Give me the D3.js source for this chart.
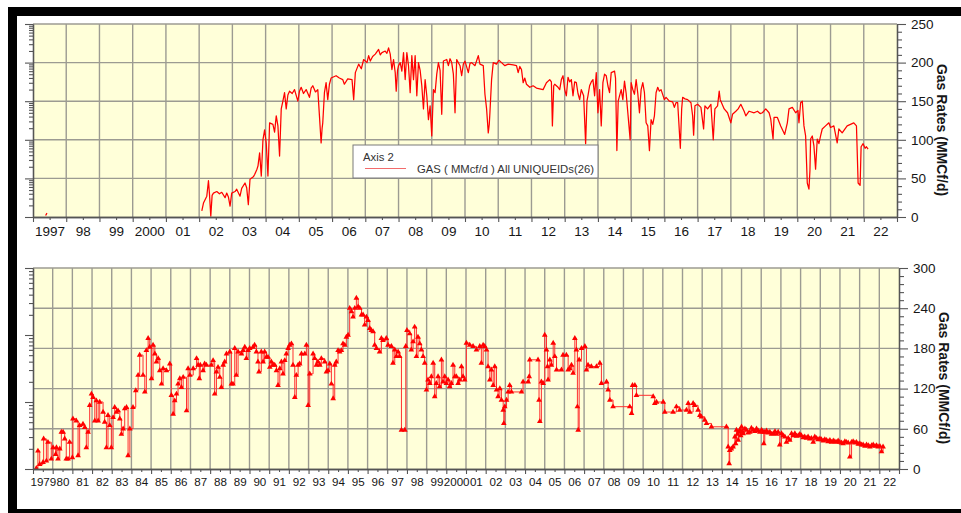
<!DOCTYPE html>
<html>
<head>
<meta charset="utf-8">
<script src="https://cdn.jsdelivr.net/npm/d3@7"></script>
<style>
  html, body { margin: 0; padding: 0; background: #fff; }
  svg { display: block; font-family: "Liberation Sans", Arial, sans-serif; }
</style>
</head>
<body>
<svg id="chart" width="961" height="513"></svg>
<script>
// ---- Upper panel: daily gas rate, 1997-2022 (decimal year, MMcf/d) ----
const topYearLabels = ["1997","98","99","2000","01","02","03","04","05","06","07","08","09","10","11","12","13","14","15","16","17","18","19","20","21","22"];
const topRateTicks = [0, 50, 100, 150, 200, 250];

const topGasEarly = [[1997.38, 2], [1997.42, 5]];

const topGas2002_2005 = [
  [2002.08, 8], [2002.13, 18], [2002.23, 27], [2002.28, 47], [2002.31, 30], [2002.35, 1], [2002.39, 28], [2002.43, 31],
  [2002.53, 33], [2002.61, 30], [2002.68, 32], [2002.78, 25], [2002.83, 31], [2002.88, 26], [2002.93, 14], [2002.98, 31],
  [2003.08, 33], [2003.13, 36], [2003.23, 27], [2003.28, 37], [2003.38, 44], [2003.43, 38], [2003.48, 16], [2003.53, 49],
  [2003.63, 52], [2003.67, 55], [2003.74, 62], [2003.77, 66], [2003.82, 83], [2003.87, 53], [2003.92, 100], [2003.97, 113],
  [2004.02, 95], [2004.07, 53], [2004.12, 122], [2004.22, 120], [2004.27, 110], [2004.32, 131], [2004.37, 118], [2004.42, 79],
  [2004.47, 140], [2004.52, 150], [2004.57, 161], [2004.62, 140], [2004.67, 158], [2004.72, 163], [2004.80, 160], [2004.87, 165], [2004.97, 150],
  [2005.02, 163], [2005.07, 168], [2005.14, 160], [2005.22, 165], [2005.32, 155], [2005.37, 167], [2005.42, 170], [2005.50, 162],
  [2005.57, 165], [2005.62, 131], [2005.65, 110], [2005.67, 96], [2005.70, 115], [2005.72, 122], [2005.77, 161], [2005.82, 174],
  [2005.87, 152], [2005.92, 172], [2005.97, 180]
];

const topGas2006_2010 = [
  [2006.12, 183], [2006.22, 180], [2006.32, 178], [2006.37, 172], [2006.47, 179], [2006.60, 178], [2006.65, 152], [2006.70, 187],
  [2006.80, 198], [2006.88, 192], [2006.95, 204],
  [2007.05, 200], [2007.10, 209], [2007.15, 202], [2007.22, 208], [2007.30, 211], [2007.40, 217], [2007.45, 210], [2007.50, 213],
  [2007.60, 215], [2007.65, 212], [2007.70, 219], [2007.75, 211], [2007.80, 191], [2007.85, 204], [2007.90, 187], [2007.93, 163], [2007.97, 190],
  [2008.00, 196], [2008.05, 200], [2008.10, 189], [2008.15, 213], [2008.20, 178], [2008.25, 213], [2008.30, 196], [2008.35, 161],
  [2008.40, 209], [2008.45, 178], [2008.50, 209], [2008.55, 157], [2008.60, 200], [2008.65, 190], [2008.70, 170], [2008.75, 140],
  [2008.80, 178], [2008.85, 157], [2008.90, 126], [2008.95, 144],
  [2009.00, 105], [2009.05, 165], [2009.10, 161], [2009.15, 185], [2009.20, 200], [2009.25, 190], [2009.30, 133], [2009.35, 202],
  [2009.45, 204], [2009.50, 196], [2009.55, 205], [2009.60, 200], [2009.65, 185], [2009.70, 135], [2009.75, 204], [2009.85, 196],
  [2009.90, 183], [2009.95, 198],
  [2010.00, 202], [2010.10, 187], [2010.15, 199], [2010.20, 200], [2010.30, 196], [2010.40, 209], [2010.45, 198], [2010.55, 196],
  [2010.60, 159], [2010.65, 140], [2010.70, 109], [2010.73, 120], [2010.75, 135], [2010.80, 178], [2010.85, 200], [2010.95, 198]
];

const topGas2011_2015 = [
  [2011.02, 203], [2011.10, 200], [2011.20, 196], [2011.30, 198], [2011.45, 197], [2011.55, 196], [2011.60, 187], [2011.65, 195],
  [2011.70, 191], [2011.75, 174], [2011.80, 180], [2011.85, 172], [2011.95, 168],
  [2012.05, 170], [2012.15, 167], [2012.25, 166], [2012.35, 165], [2012.45, 174], [2012.55, 178], [2012.60, 175], [2012.63, 118],
  [2012.67, 170], [2012.70, 172], [2012.80, 168], [2012.85, 165], [2012.90, 178], [2012.95, 183],
  [2013.00, 165], [2013.05, 157], [2013.10, 181], [2013.15, 175], [2013.20, 178], [2013.25, 157], [2013.30, 175], [2013.35, 174],
  [2013.40, 160], [2013.45, 152], [2013.50, 165], [2013.57, 157], [2013.63, 95], [2013.67, 150], [2013.70, 157], [2013.75, 170],
  [2013.80, 175], [2013.85, 178], [2013.90, 157], [2013.95, 187],
  [2014.00, 135], [2014.05, 165], [2014.10, 118], [2014.15, 174], [2014.20, 185], [2014.25, 183], [2014.30, 170], [2014.35, 161],
  [2014.40, 187], [2014.50, 189], [2014.53, 180], [2014.57, 86], [2014.61, 150], [2014.65, 157], [2014.70, 165], [2014.75, 152],
  [2014.80, 176], [2014.85, 160], [2014.90, 135], [2014.97, 100],
  [2015.00, 174], [2015.05, 165], [2015.10, 159], [2015.15, 178], [2015.20, 160], [2015.25, 135], [2015.30, 165], [2015.35, 174],
  [2015.40, 161], [2015.45, 122], [2015.50, 118], [2015.55, 86], [2015.60, 126], [2015.65, 120], [2015.70, 131], [2015.75, 161],
  [2015.80, 168], [2015.85, 163], [2015.90, 165]
];

const topGas2016_2022 = [
  [2016.00, 152], [2016.05, 155], [2016.15, 150], [2016.25, 149], [2016.30, 142], [2016.35, 148], [2016.40, 148], [2016.48, 89],
  [2016.52, 140], [2016.55, 155], [2016.62, 153], [2016.70, 152], [2016.80, 148], [2016.85, 131], [2016.88, 106], [2016.92, 144],
  [2017.00, 146], [2017.10, 142], [2017.18, 114], [2017.22, 144], [2017.30, 140], [2017.40, 146], [2017.47, 100], [2017.52, 140],
  [2017.60, 144], [2017.65, 163], [2017.68, 152], [2017.70, 150], [2017.80, 140], [2017.90, 135],
  [2018.00, 122], [2018.05, 133], [2018.15, 137], [2018.22, 140], [2018.30, 146], [2018.40, 137], [2018.45, 131], [2018.55, 137],
  [2018.70, 135], [2018.80, 137], [2018.88, 134], [2018.95, 135],
  [2019.05, 140], [2019.15, 135], [2019.20, 127], [2019.27, 101], [2019.30, 129], [2019.40, 129], [2019.50, 118], [2019.62, 107],
  [2019.70, 122], [2019.75, 140], [2019.85, 142], [2019.95, 135],
  [2020.02, 138], [2020.05, 122], [2020.10, 148], [2020.15, 150], [2020.20, 118], [2020.25, 105], [2020.30, 44], [2020.35, 36],
  [2020.38, 60], [2020.40, 101], [2020.45, 105], [2020.50, 92], [2020.55, 62], [2020.60, 101], [2020.65, 95], [2020.70, 105],
  [2020.75, 114], [2020.85, 118], [2020.95, 122],
  [2021.00, 116], [2021.10, 118], [2021.20, 96], [2021.25, 114], [2021.35, 109], [2021.50, 118], [2021.60, 120], [2021.70, 122],
  [2021.78, 118], [2021.83, 44], [2021.89, 41], [2021.92, 91], [2021.98, 95], [2022.04, 89], [2022.08, 91], [2022.13, 88]
];

// ---- Lower panel: monthly gas rate, 1979-2022 (decimal year, MMcf/d) ----
const bottomYearLabels = ["1979","80","81","82","83","84","85","86","87","88","89","90","91","92","93","94","95","96","97","98","99","2000","01","02","03","04","05","06","07","08","09","10","11","12","13","14","15","16","17","18","19","20","21","22"];
const bottomRateTicks = [0, 60, 120, 180, 240, 300];

const bottomGas1979_1988 = [
  [1979.17, 1], [1979.25, 27], [1979.34, 7], [1979.51, 10], [1979.54, 45], [1979.68, 12], [1979.76, 40], [1979.93, 15],
  [1980.02, 32], [1980.15, 22], [1980.19, 32], [1980.27, 15], [1980.36, 30], [1980.44, 55], [1980.53, 55], [1980.61, 45],
  [1980.69, 15], [1980.78, 15], [1980.86, 40],
  [1981.00, 17], [1981.03, 75], [1981.20, 72], [1981.29, 20], [1981.37, 65], [1981.54, 67], [1981.63, 62], [1981.71, 32],
  [1981.80, 55], [1981.88, 95], [1981.97, 112], [1982.05, 107], [1982.14, 72], [1982.22, 102], [1982.31, 72], [1982.39, 100],
  [1982.56, 85], [1982.64, 70], [1982.73, 32], [1982.81, 80], [1982.90, 65], [1982.98, 32],
  [1983.07, 77], [1983.15, 92], [1983.24, 85], [1983.32, 87], [1983.41, 75], [1983.49, 52], [1983.58, 60], [1983.66, 90],
  [1983.75, 92], [1983.83, 20], [1983.92, 60], [1984.08, 92], [1984.22, 117], [1984.34, 140], [1984.42, 170], [1984.59, 140],
  [1984.68, 115], [1984.76, 177], [1984.85, 195], [1984.93, 182],
  [1985.02, 135], [1985.10, 185], [1985.19, 172], [1985.27, 160], [1985.36, 165], [1985.44, 147], [1985.53, 127], [1985.61, 150],
  [1985.78, 147], [1985.95, 157], [1986.03, 110], [1986.12, 82], [1986.20, 102], [1986.29, 112], [1986.37, 127], [1986.46, 135],
  [1986.54, 122], [1986.63, 137], [1986.80, 87], [1986.88, 150], [1986.97, 140],
  [1987.14, 150], [1987.31, 165], [1987.39, 155], [1987.45, 135], [1987.50, 155], [1987.64, 147], [1987.72, 157], [1987.81, 155],
  [1988.06, 155], [1988.15, 162], [1988.23, 112], [1988.32, 145], [1988.40, 152], [1988.49, 137], [1988.57, 122], [1988.66, 155],
  [1988.74, 160], [1988.83, 172]
];

const bottomGas1989_2000 = [
  [1989.00, 175], [1989.08, 127], [1989.16, 127], [1989.25, 180], [1989.33, 140], [1989.42, 175], [1989.59, 172], [1989.67, 177],
  [1989.76, 182], [1989.84, 165], [1989.93, 177], [1990.01, 180], [1990.18, 182], [1990.26, 185], [1990.35, 175], [1990.43, 160],
  [1990.48, 145], [1990.60, 175], [1990.69, 160], [1990.77, 175], [1990.86, 167], [1990.94, 167],
  [1991.03, 152], [1991.11, 160], [1991.20, 155], [1991.28, 155], [1991.37, 147], [1991.45, 125], [1991.54, 150], [1991.62, 160],
  [1991.70, 142], [1991.79, 162], [1991.87, 172], [1991.96, 180], [1992.04, 185], [1992.13, 187], [1992.21, 155], [1992.30, 107],
  [1992.38, 140], [1992.47, 155], [1992.55, 157], [1992.64, 172], [1992.81, 172], [1992.89, 185], [1992.98, 95],
  [1993.06, 142], [1993.23, 172], [1993.31, 165], [1993.40, 155], [1993.48, 160], [1993.57, 155], [1993.65, 165], [1993.82, 160],
  [1993.91, 145], [1993.99, 147], [1994.08, 157], [1994.16, 127], [1994.25, 105], [1994.33, 155], [1994.41, 160], [1994.50, 177],
  [1994.58, 175], [1994.67, 177], [1994.75, 187], [1994.84, 185], [1994.92, 197],
  [1995.01, 200], [1995.09, 240], [1995.18, 235], [1995.26, 227], [1995.35, 240], [1995.43, 255], [1995.52, 242], [1995.60, 240],
  [1995.69, 230], [1995.77, 230], [1995.85, 215], [1995.94, 227], [1996.02, 222], [1996.11, 210], [1996.19, 207], [1996.28, 205],
  [1996.36, 185], [1996.45, 180], [1996.61, 175], [1996.70, 195], [1996.78, 192], [1996.95, 195],
  [1997.04, 185], [1997.21, 183], [1997.29, 158], [1997.38, 178], [1997.46, 168], [1997.55, 175], [1997.63, 168], [1997.72, 58],
  [1997.89, 58], [1997.94, 183], [1998.00, 207], [1998.14, 202], [1998.22, 178], [1998.31, 190], [1998.39, 212], [1998.48, 168],
  [1998.56, 197], [1998.65, 187], [1998.73, 178], [1998.82, 168], [1998.90, 158],
  [1998.99, 118], [1999.07, 133], [1999.16, 128], [1999.24, 138], [1999.33, 158], [1999.41, 108], [1999.49, 128], [1999.58, 138],
  [1999.66, 123], [1999.75, 163], [1999.83, 130], [1999.92, 138], [2000.00, 128], [2000.09, 133], [2000.17, 123], [2000.26, 128],
  [2000.34, 155], [2000.43, 138], [2000.51, 138], [2000.60, 128], [2000.68, 133], [2000.77, 153], [2000.85, 138], [2000.93, 133]
];

const bottomGas2001_2013 = [
  [2001.02, 188], [2001.19, 185], [2001.36, 183], [2001.53, 178], [2001.70, 183], [2001.78, 158], [2001.87, 185], [2001.95, 183],
  [2002.04, 178], [2002.12, 153], [2002.21, 133], [2002.29, 148], [2002.38, 125], [2002.46, 153], [2002.55, 118], [2002.63, 108],
  [2002.72, 120], [2002.80, 103], [2002.89, 88], [2002.92, 68], [2002.97, 93],
  [2003.06, 103], [2003.14, 115], [2003.22, 125], [2003.31, 115], [2003.82, 115], [2003.90, 130], [2004.16, 130], [2004.21, 138],
  [2004.24, 163], [2004.66, 163], [2004.71, 103], [2004.75, 71], [2004.83, 130], [2004.92, 128], [2005.00, 200], [2005.09, 178],
  [2005.14, 153], [2005.17, 133], [2005.26, 163], [2005.34, 155], [2005.43, 188], [2005.51, 168], [2005.60, 148], [2005.85, 148],
  [2005.93, 170],
  [2006.10, 170], [2006.19, 148], [2006.27, 150], [2006.36, 155], [2006.44, 143], [2006.53, 195], [2006.61, 178], [2006.66, 93],
  [2006.70, 58], [2006.75, 163], [2006.87, 180], [2007.04, 183], [2007.12, 148], [2007.20, 155], [2007.37, 153], [2007.63, 153],
  [2007.80, 158], [2007.88, 128], [2008.14, 130], [2008.22, 118], [2008.31, 103], [2008.47, 93],
  [2009.32, 93], [2009.41, 83], [2009.46, 125], [2009.58, 125], [2009.66, 110], [2010.51, 108], [2010.59, 98], [2010.68, 100],
  [2011.02, 100], [2011.10, 85], [2011.52, 85], [2011.69, 93], [2011.86, 88], [2012.20, 88], [2012.29, 98], [2012.37, 85],
  [2012.54, 98], [2012.62, 95], [2012.79, 88], [2012.88, 80], [2012.96, 78], [2013.13, 73], [2013.22, 68], [2013.47, 63]
];

const bottomGas2014_2022 = [
  [2014.23, 63], [2014.32, 33], [2014.37, 8], [2014.40, 28], [2014.48, 30], [2014.57, 33], [2014.66, 48], [2014.70, 38],
  [2014.74, 58], [2014.79, 52], [2014.83, 43], [2014.87, 55], [2014.91, 58], [2014.96, 50], [2015.00, 63], [2015.04, 56],
  [2015.08, 53], [2015.17, 60], [2015.25, 58], [2015.33, 54], [2015.42, 55], [2015.50, 61], [2015.59, 58], [2015.67, 56],
  [2015.76, 60], [2015.84, 57], [2015.93, 55], [2016.02, 58], [2016.10, 55], [2016.13, 38], [2016.18, 55], [2016.27, 57],
  [2016.35, 54], [2016.44, 55], [2016.52, 52], [2016.61, 53], [2016.70, 56], [2016.78, 52], [2016.86, 55], [2016.94, 36],
  [2017.03, 53], [2017.11, 50], [2017.20, 48], [2017.28, 40], [2017.37, 46], [2017.45, 43], [2017.54, 53], [2017.62, 50],
  [2017.71, 53], [2017.79, 49], [2017.88, 50], [2017.96, 52], [2018.04, 50], [2018.13, 47], [2018.21, 48], [2018.30, 46],
  [2018.38, 48], [2018.47, 45], [2018.55, 46], [2018.64, 40], [2018.72, 48], [2018.81, 46], [2018.89, 44], [2018.98, 45],
  [2019.06, 44], [2019.15, 42], [2019.23, 44], [2019.32, 43], [2019.40, 41], [2019.49, 43], [2019.57, 40], [2019.66, 42],
  [2019.74, 41], [2019.82, 40], [2019.91, 42],
  [2019.99, 40], [2020.08, 39], [2020.16, 38], [2020.25, 41], [2020.33, 40], [2020.42, 39], [2020.50, 18], [2020.59, 40],
  [2020.67, 41], [2020.76, 39], [2020.84, 40], [2020.93, 37], [2021.01, 38], [2021.10, 36], [2021.18, 36], [2021.27, 34],
  [2021.35, 36], [2021.44, 35], [2021.52, 33], [2021.61, 35], [2021.69, 36], [2021.78, 34], [2021.86, 35], [2021.94, 33],
  [2022.03, 34], [2022.11, 26], [2022.19, 33]
];

const legendTitle = "Axis 2";
const legendLabel = "GAS ( MMcf/d ) All UNIQUEIDs(26)";
const axisTitle = "Gas Rates (MMCf/d)";

// ---- drawing ----
const svg = d3.select("#chart");
const RED = "#ff0000";
const GRID = "#9c9b92";
const AXIS = "#555";
const TEXT = "#161616";

svg.append("rect").attr("width", 961).attr("height", 513).attr("fill", "#fff");

function drawPanel(cfg) {
  const g = svg.append("g");
  const x = d3.scaleLinear().domain([cfg.firstYear, cfg.lastYear + 1]).range([cfg.left, cfg.right]);
  const y = d3.scaleLinear().domain([0, cfg.rateTicks[cfg.rateTicks.length - 1]]).range([cfg.bottom, cfg.top]);
  const years = d3.range(cfg.firstYear, cfg.lastYear + 2);

  g.append("rect")
    .attr("x", cfg.left).attr("y", cfg.top)
    .attr("width", cfg.right - cfg.left).attr("height", cfg.bottom - cfg.top)
    .attr("fill", "#ffffd9");

  // grid
  g.append("g").selectAll("line").data(years.slice(1, -1)).join("line")
    .attr("x1", d => x(d)).attr("x2", d => x(d))
    .attr("y1", cfg.top).attr("y2", cfg.bottom)
    .attr("stroke", GRID).attr("stroke-width", 1.4);
  g.append("g").selectAll("line").data(cfg.rateTicks.slice(1)).join("line")
    .attr("x1", cfg.left).attr("x2", cfg.right)
    .attr("y1", d => y(d)).attr("y2", d => y(d))
    .attr("stroke", GRID).attr("stroke-width", 1.4);

  // series
  const clipId = "clip" + cfg.id;
  g.append("clipPath").attr("id", clipId).append("rect")
    .attr("x", cfg.left).attr("y", cfg.top)
    .attr("width", cfg.right - cfg.left).attr("height", cfg.bottom - cfg.top);
  const plot = g.append("g").attr("clip-path", `url(#${clipId})`);
  const line = d3.line().x(d => x(d[0])).y(d => y(d[1])).curve(cfg.curve);
  cfg.segments.forEach(seg => {
    plot.append("path").datum(seg)
      .attr("fill", "none").attr("stroke", cfg.lineColor)
      .attr("stroke-width", cfg.lineWidth).attr("stroke-linejoin", "round")
      .attr("d", line);
  });
  if (cfg.markers) {
    const sym = d3.symbol().type(d3.symbolTriangle).size(14);
    cfg.segments.forEach(seg => {
      plot.append("g").selectAll("path").data(seg).join("path")
        .attr("transform", d => `translate(${x(d[0])},${y(d[1])})`)
        .attr("d", sym).attr("fill", RED);
    });
  }

  const styleAxis = (sel, size) => {
    sel.selectAll(".domain").attr("stroke", AXIS).attr("stroke-width", 1.3);
    sel.selectAll(".tick line").attr("stroke", AXIS).attr("stroke-width", 1.1);
    sel.selectAll("text").attr("fill", TEXT)
      .style("font-family", '"Liberation Sans", Arial, sans-serif')
      .style("font-size", (size || cfg.fontSize) + "px");
  };

  // right value axis
  const minorTicks = d3.range(0, cfg.rateTicks[cfg.rateTicks.length - 1], cfg.minorStep)
    .filter(v => !cfg.rateTicks.includes(v));
  g.append("g").attr("transform", `translate(${cfg.right},0)`)
    .call(d3.axisRight(y).tickValues(minorTicks).tickSize(5).tickSizeOuter(0).tickFormat(""))
    .call(styleAxis);
  g.append("g").attr("transform", `translate(${cfg.right},0)`)
    .call(d3.axisRight(y).tickValues(cfg.rateTicks).tickSize(9).tickPadding(5).tickSizeOuter(0).tickFormat(d3.format("d")))
    .call(styleAxis);

  // left log axis (unlabelled)
  const logY = d3.scaleLog().domain([1, cfg.logMax]).range([cfg.bottom, cfg.top]);
  const logMajor = logY.ticks().filter(v => Math.log10(v) % 1 === 0);
  const logMinor = logY.ticks().filter(v => Math.log10(v) % 1 !== 0);
  g.append("g").attr("transform", `translate(${cfg.left},0)`)
    .call(d3.axisLeft(logY).tickValues(logMinor).tickSize(4).tickSizeOuter(0).tickFormat(""))
    .call(styleAxis);
  g.append("g").attr("transform", `translate(${cfg.left},0)`)
    .call(d3.axisLeft(logY).tickValues(logMajor).tickSize(8).tickSizeOuter(0).tickFormat(""))
    .call(styleAxis);

  // bottom time axis: year ticks, half-year ticks, centred year labels
  g.append("g").attr("transform", `translate(0,${cfg.bottom})`)
    .call(d3.axisBottom(x).tickValues(years.slice(0, -1).map(v => v + 0.5)).tickSize(3).tickSizeOuter(0).tickFormat(""))
    .call(styleAxis);
  g.append("g").attr("transform", `translate(0,${cfg.bottom})`)
    .call(d3.axisBottom(x).tickValues(years).tickSize(5).tickSizeOuter(0).tickFormat(""))
    .call(styleAxis);
  const labelAxis = g.append("g").attr("transform", `translate(0,${cfg.bottom})`)
    .call(d3.axisBottom(x).tickValues(years.slice(0, -1).map(v => v + 0.5)).tickSize(0).tickPadding(cfg.labelPad)
      .tickFormat((d, i) => cfg.yearLabels[i]))
    .call(styleAxis, cfg.yearFontSize);
  labelAxis.select(".domain").remove();

  // right axis title
  g.append("text")
    .attr("transform", `translate(${cfg.titleX},${cfg.titleY}) rotate(90)`)
    .attr("text-anchor", "middle").attr("dominant-baseline", "central")
    .attr("fill", TEXT).style("font-size", "14px").style("font-weight", "bold")
    .text(axisTitle);

  return { x, y, g };
}

drawPanel({
  id: "top", left: 33, right: 897, top: 24, bottom: 217,
  firstYear: 1997, lastYear: 2022, yearLabels: topYearLabels,
  rateTicks: topRateTicks, minorStep: 10, logMax: 1e5,
  segments: [topGasEarly, [...topGas2002_2005, ...topGas2006_2010, ...topGas2011_2015, ...topGas2016_2022]],
  curve: d3.curveLinear, lineColor: RED, lineWidth: 1.25, markers: false,
  fontSize: 13.5, yearFontSize: 13.5, labelPad: 9, titleX: 942, titleY: 130
});

drawPanel({
  id: "bottom", left: 33, right: 899, top: 268, bottom: 469,
  firstYear: 1979, lastYear: 2022, yearLabels: bottomYearLabels,
  rateTicks: bottomRateTicks, minorStep: 12, logMax: 1e3,
  segments: [[...bottomGas1979_1988, ...bottomGas1989_2000, ...bottomGas2001_2013, ...bottomGas2014_2022]],
  curve: d3.curveStepAfter, lineColor: "#ff3030", lineWidth: 1, markers: true,
  fontSize: 13.5, yearFontSize: 11.6, labelPad: 9, titleX: 944, titleY: 378
});

// legend box in the upper panel
const legend = svg.append("g").attr("transform", "translate(353,145)");
legend.append("rect").attr("width", 245).attr("height", 33)
  .attr("fill", "#fff").attr("stroke", "#7a7a7a").attr("stroke-width", 1);
legend.append("text").attr("x", 10).attr("y", 15.5)
  .attr("fill", "#333").style("font-size", "11.3px").text(legendTitle);
legend.append("line").attr("x1", 12).attr("x2", 53).attr("y1", 23.5).attr("y2", 23.5)
  .attr("stroke", "#f26b6b").attr("stroke-width", 1.2);
legend.append("text").attr("x", 64).attr("y", 28)
  .attr("fill", "#333").style("font-size", "11.3px").text(legendLabel);

// black frame around the figure
svg.append("rect").attr("x", 8).attr("y", 7).attr("width", 953).attr("height", 9).attr("fill", "#000");
svg.append("rect").attr("x", 8).attr("y", 7).attr("width", 9).attr("height", 506).attr("fill", "#000");
svg.append("rect").attr("x", 8).attr("y", 509).attr("width", 953).attr("height", 4).attr("fill", "#000");
</script>
</body>
</html>
